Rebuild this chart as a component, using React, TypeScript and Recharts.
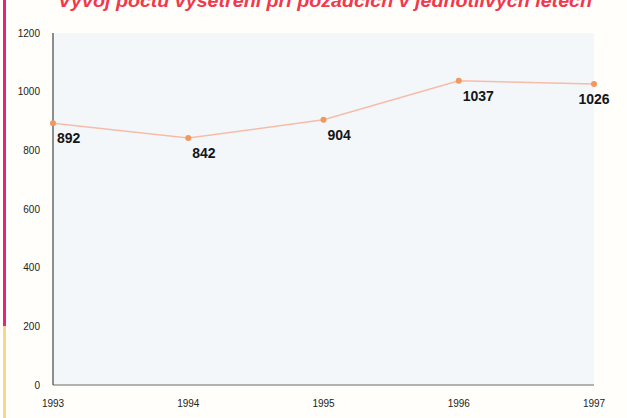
import React from "react";
import {
  LineChart,
  Line,
  XAxis,
  YAxis,
  CartesianGrid,
  LabelList,
} from "recharts";

const years = ["1993", "1994", "1995", "1996", "1997"];
const counts = [892, 842, 904, 1037, 1026];
const yTicks = [0, 200, 400, 600, 800, 1000, 1200];

const data = years.map((year, i) => ({ year, count: counts[i] }));

const font = "Arial, 'Liberation Sans', Helvetica, sans-serif";

const PointLabel = (props: any) => {
  const { x, y, value, index } = props;
  const last = index === counts.length - 1;
  return (
    <text
      x={last ? x : x + 4}
      y={y + 20}
      textAnchor={last ? "middle" : "start"}
      fontFamily={font}
      fontWeight="bold"
      fontSize={14}
      fill="#151515"
    >
      {value}
    </text>
  );
};

const App = () => {
  return (
    <div
      style={{
        position: "absolute",
        left: 0,
        top: 0,
        width: 627,
        height: 418,
        background: "#fffefb",
        overflow: "hidden",
      }}
    >
      {/* side stripe from the printed page */}
      <div
        style={{
          position: "absolute",
          left: 3,
          top: 0,
          width: 3,
          height: 326,
          background: "#e8237c",
        }}
      />
      <div
        style={{
          position: "absolute",
          left: 3,
          top: 326,
          width: 3,
          height: 92,
          background: "#f3d98c",
        }}
      />
      {/* title is cut at the top edge in the scan */}
      <svg
        width={627}
        height={20}
        style={{ position: "absolute", left: 0, top: 0 }}
      >
        <text
          x={58}
          y={7}
          textLength={534}
          lengthAdjust="spacingAndGlyphs"
          fontFamily={font}
          fontWeight="bold"
          fontStyle="italic"
          fontSize={18}
          fill="#f2384c"
        >
          Vývoj počtu vyšetření při pozadcích v jednotlivých letech
        </text>
      </svg>
      <div style={{ position: "absolute", left: 0, top: 0 }}>
        <LineChart
          width={627}
          height={418}
          data={data}
          margin={{ top: 33, right: 33, bottom: 0, left: 0 }}
        >
          <CartesianGrid
            horizontal={false}
            vertical={false}
            fill="#f3f7fa"
          />
          <XAxis
            dataKey="year"
            height={33}
            axisLine={{ stroke: "#9a9a9a", strokeWidth: 1.5 }}
            tickLine={false}
            tickSize={0}
            tickMargin={15}
            interval={0}
            tick={{ fontSize: 10, fill: "#222", fontFamily: font }}
          />
          <XAxis
            xAxisId="top"
            dataKey="year"
            orientation="top"
            height={0}
            tick={false}
            tickLine={false}
            axisLine={{ stroke: "#d9dde2", strokeWidth: 1.5 }}
          />
          <YAxis
            width={53}
            domain={[0, 1200]}
            ticks={yTicks}
            interval={0}
            axisLine={{ stroke: "#444", strokeWidth: 1.2 }}
            tickLine={false}
            tickSize={0}
            tickMargin={13}
            tick={{ fontSize: 10, fill: "#222", fontFamily: font }}
          />
          <YAxis
            yAxisId="right"
            orientation="right"
            width={0}
            domain={[0, 1200]}
            tick={false}
            tickLine={false}
            axisLine={{ stroke: "#d9dde2", strokeWidth: 1.5 }}
          />
          <Line
            type="linear"
            dataKey="count"
            stroke="#f7bca8"
            strokeWidth={1.5}
            dot={{ r: 3, fill: "#f2975f", stroke: "none" }}
            activeDot={false}
            isAnimationActive={false}
          >
            <LabelList dataKey="count" content={PointLabel} />
          </Line>
        </LineChart>
      </div>
    </div>
  );
};

export default App;
